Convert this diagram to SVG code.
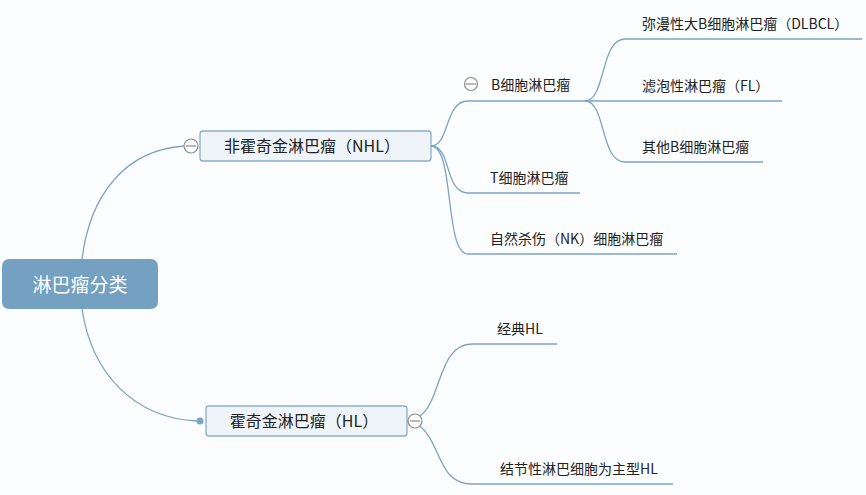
<svg xmlns="http://www.w3.org/2000/svg" width="866" height="495" viewBox="0 0 866 495">
<style>
.con{fill:none;stroke:#7ca4c4;stroke-width:1.3}
.t{font-family:"Noto Sans CJK SC","Liberation Sans",sans-serif;fill:#222}
.leaf{font-size:14px}
.mid{font-size:16px;text-anchor:middle}
.box{fill:#eef4f8;stroke:#8badc8;stroke-width:1.3}
.col{fill:#fff;stroke:#8a8a8a;stroke-width:1.2}
.colm{stroke:#8a8a8a;stroke-width:1.2}
</style>
<rect width="866" height="495" fill="#fcfdfe"/>
<g id="connectors">
<path class="con" d="M82,259 C90,195 125,150 184,146"/>
<path class="con" d="M82,309 C92,375 135,418 197,421"/>
<circle cx="200" cy="421" r="3.5" fill="#7ca4c4"/>
<path class="con" d="M431,146 C450,146 444,101 468,101 L585,101"/>
<path class="con" d="M431,146 C452,146 444,193 468,193 L580,193"/>
<path class="con" d="M431,146 C455,146 444,254 468,254 L677,254"/>
<path class="con" d="M585,101 C606,101 600,39 625,39 L862,39"/>
<path class="con" d="M585,101 L782,101"/>
<path class="con" d="M585,101 C606,101 600,162 625,162 L763,162"/>
<path class="con" d="M420,416 C442,400 438,344 472,344 L557,344"/>
<path class="con" d="M420,426 C442,445 438,484 472,484 L673,484"/>
</g>
<g id="root">
<rect x="2" y="259" width="156" height="50" rx="7" fill="#74a1c1"/>
<text class="t" x="80" y="291.5" font-size="19" text-anchor="middle" fill="#fff" style="fill:#fff">淋巴瘤分类</text>
</g>
<g id="nhl">
<rect class="box" x="200" y="131" width="231" height="30" rx="3"/>
<text class="t mid" x="312" y="152">非霍奇金淋巴瘤（NHL）</text>
<circle class="col" cx="191" cy="146" r="7"/>
<line class="colm" x1="186" y1="146" x2="196" y2="146"/>
</g>
<g id="hl">
<rect class="box" x="206" y="406" width="201" height="30" rx="3"/>
<text class="t mid" x="304" y="427">霍奇金淋巴瘤（HL）</text>
<circle class="col" cx="415" cy="421" r="7"/>
<line class="colm" x1="410" y1="421" x2="420" y2="421"/>
</g>
<g id="bcell">
<circle class="col" cx="471" cy="84" r="6.5"/>
<line class="colm" x1="466" y1="84" x2="476" y2="84"/>
<text class="t leaf" x="491" y="90">B细胞淋巴瘤</text>
</g>
<g id="tcell"><text class="t leaf" x="490" y="183">T细胞淋巴瘤</text></g>
<g id="nk"><text class="t leaf" x="490" y="244">自然杀伤（NK）细胞淋巴瘤</text></g>
<g id="dlbcl"><text class="t leaf" x="642" y="29">弥漫性大B细胞淋巴瘤（DLBCL）</text></g>
<g id="fl"><text class="t leaf" x="642" y="91">滤泡性淋巴瘤（FL）</text></g>
<g id="otherb"><text class="t leaf" x="642" y="152">其他B细胞淋巴瘤</text></g>
<g id="chl"><text class="t leaf" x="497" y="334">经典HL</text></g>
<g id="nlphl"><text class="t leaf" x="500" y="474">结节性淋巴细胞为主型HL</text></g>
</svg>
